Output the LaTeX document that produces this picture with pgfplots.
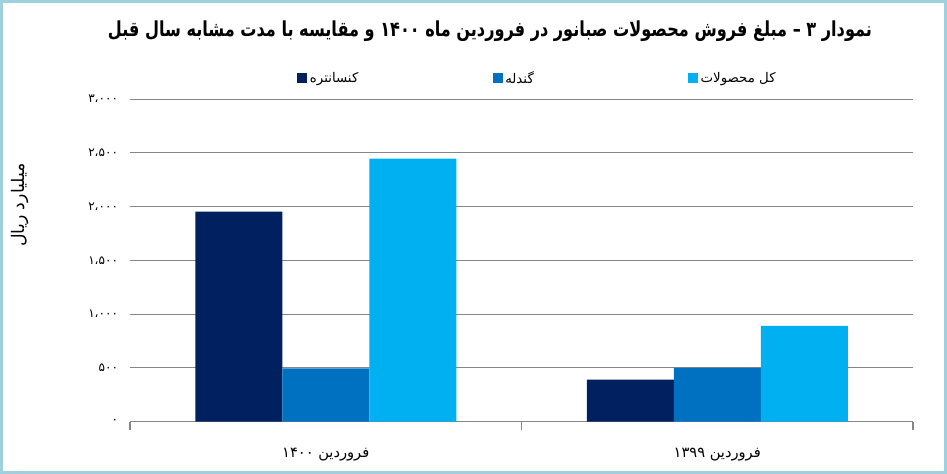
\documentclass[border=0pt]{standalone}
\usepackage{pgfplots}
\pgfplotsset{compat=1.18}
\usepackage{fontspec}
\setmainfont{DejaVu Sans}
\TeXXeTstate=1
\newfontfamily\fa[Script=Arabic]{DejaVu Sans}
\newfontfamily\fatitle[Script=Arabic,FakeStretch=0.78]{DejaVu Sans}

\definecolor{navy}{HTML}{002060}
\definecolor{midblue}{HTML}{0070C0}
\definecolor{lightblue}{HTML}{00B0F0}
\definecolor{gridgray}{HTML}{868686}
\definecolor{framec}{HTML}{9FD0DD}

\begin{document}
\begin{tikzpicture}[x=0.75pt,y=0.75pt]
% frame of the picture, in pixels
\draw[framec, line width=2.25pt] (1.5,1.5) rectangle (945.5,472.5);
\node at (490,443) {\fatitle\bfseries\fontsize{15.5}{18}\selectfont
  \beginR نمودار \beginL۳\endL{} – مبلغ فروش محصولات صبانور در فروردین ماه \beginL۱۴۰۰\endL{} و مقایسه با مدت مشابه سال قبل\endR};

\begin{axis}[
  at={(97.5pt,39.2pt)}, anchor=south west,
  scale only axis,
  width=587.25pt, height=242pt,
  ybar=0pt, bar width=65.25pt,
  xmin=-0.5, xmax=1.5,
  ymin=0, ymax=3000,
  axis lines*=left,
  y axis line style={draw=none},
  x axis line style={gridgray, line width=0.8pt},
  ytick={0,500,...,3000},
  yticklabels={\hbox{\fa ۰},\hbox{\fa ۵۰۰},\hbox{\fa ۱،۰۰۰},\hbox{\fa ۱،۵۰۰},\hbox{\fa ۲،۰۰۰},\hbox{\fa ۲،۵۰۰},\hbox{\fa ۳،۰۰۰}},
  ytick style={draw=none},
  yticklabel style={font=\fontsize{9}{10}\selectfont, anchor=east, xshift=1pt},
  ymajorgrids,
  grid style={gridgray, line width=0.8pt},
  % category boundaries carry the tick marks
  xtick={-0.5,0.5,1.5},
  xticklabels={},
  xtick style={draw=gridgray, line width=0.8pt},
  tick align=outside,
  major tick length=6.5pt,
  % category names, no marks
  extra x ticks={0,1},
  extra x tick labels={{\fa\beginR فروردین \beginL۱۴۰۰\endL\endR},{\fa\beginR فروردین \beginL۱۳۹۹\endL\endR}},
  extra x tick style={grid=none, major tick length=0pt,
    xticklabel style={font=\fontsize{11}{12}\selectfont, yshift=-16pt}},
  ylabel={\fa\fontsize{13}{15}\selectfont\beginR میلیارد ریال\endR},
  ylabel style={at={(rel axis cs:-0.14,0.672)}, anchor=center},
  legend columns=3,
  legend style={at={(rel axis cs:0.2133,1.065)}, anchor=west, draw=none,
    inner sep=0pt, font=\fontsize{10}{12}\selectfont},
  legend image code/.code={\fill[#1] (0pt,-3.75pt) rectangle (7.5pt,3.75pt);},
]
\addplot[fill=navy, draw=none] coordinates {(0,1953) (1,391)};
\addlegendentry{\makebox[135pt][l]{\fa\beginR کنسانتره\endR}}
\addplot[fill=midblue, draw=none] coordinates {(0,497) (1,500)};
\addlegendentry{\makebox[135pt][l]{\fa\beginR گندله\endR}}
\addplot[fill=lightblue, draw=none] coordinates {(0,2447) (1,891)};
\addlegendentry{\makebox[80pt][l]{\fa\beginR کل محصولات\endR}}
\end{axis}
\end{tikzpicture}
\end{document}
